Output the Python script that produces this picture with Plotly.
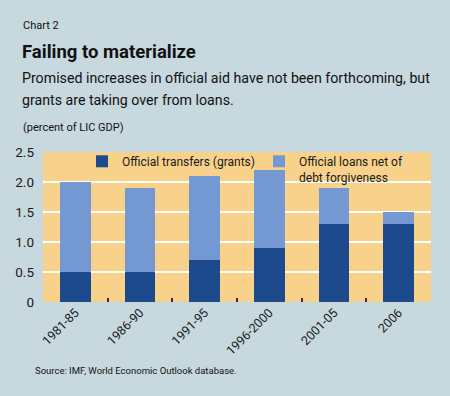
import plotly.graph_objects as go

categories = ["1981-85", "1986-90", "1991-95", "1996-2000", "2001-05", "2006"]
grants = [0.5, 0.5, 0.7, 0.9, 1.3, 1.3]
loans = [1.5, 1.4, 1.4, 1.3, 0.6, 0.2]
y_tickvals = [0, 0.5, 1.0, 1.5, 2.0, 2.5]
y_ticktext = ["0", "0.5", "1.0", "1.5", "2.0", "2.5"]

FONT = "Roboto, Liberation Sans, sans-serif"
DARK = "#1c4a8c"
LIGHT = "#7499d2"
ORANGE = "#f8d28a"
BG = "#c8d8df"
TXT = "#1a1a1a"

L, R, T, B = 43, 19, 152, 94
W, H = 450, 396
pw = W - L - R
ph = H - T - B

def px(x):
    return (x - L) / pw

def py(y):
    return (H - B - y) / ph

fig = go.Figure()
fig.add_trace(go.Bar(x=categories, y=grants, name="Official transfers (grants)",
                     marker=dict(color=DARK, line=dict(width=0)), legend="legend"))
fig.add_trace(go.Bar(x=categories, y=loans, name="Official loans net of<br>debt forgiveness",
                     marker=dict(color=LIGHT, line=dict(width=0)), legend="legend2"))

leg_common = dict(xanchor="left", yanchor="top", bgcolor="rgba(0,0,0,0)",
                  font=dict(size=12, family=FONT, color=TXT), valign="top",
                  itemclick=False, itemdoubleclick=False)

fig.update_layout(
    width=W, height=H,
    margin=dict(l=L, r=R, t=T, b=B),
    paper_bgcolor=BG, plot_bgcolor=ORANGE,
    barmode="stack", bargap=0.53,
    font=dict(family=FONT, color=TXT),
    showlegend=True,
    legend=dict(x=px(82), y=py(147), **leg_common),
    legend2=dict(x=px(259), y=py(147), **leg_common),
    xaxis=dict(type="category", tickangle=-45, tickfont=dict(size=12.5, family=FONT, color=TXT),
               ticks="inside", tickson="boundaries", ticklen=4, tickwidth=1.5, tickcolor="#333",
               showline=False, showgrid=False, zeroline=False, fixedrange=True),
    yaxis=dict(range=[0, 2.5], tickvals=y_tickvals, ticktext=y_ticktext,
               tickfont=dict(size=13.5, family=FONT, color=TXT),
               showgrid=True, gridcolor="white", gridwidth=2, zeroline=False,
               showline=False, ticks="", ticklabelstandoff=8, fixedrange=True),
)

annots = [
    dict(text="Chart 2", x=px(21), y=py(17), size=11),
    dict(text="<b>Failing to materialize</b>", x=px(20), y=py(39), size=18.5),
    dict(text="Promised increases in official aid have not been forthcoming, but", x=px(20), y=py(68), size=14.2),
    dict(text="grants are taking over from loans.", x=px(20), y=py(90), size=14.2),
    dict(text="(percent of LIC GDP)", x=px(21), y=py(119), size=11),
    dict(text="Source: IMF, World Economic Outlook database.", x=px(33), y=py(363), size=9.5),
]
for a in annots:
    fig.add_annotation(text=a["text"], x=a["x"], y=a["y"], xref="paper", yref="paper",
                       xanchor="left", yanchor="top", showarrow=False,
                       font=dict(size=a["size"], family=FONT, color="#111"))

fig.write_html("out.html", config={"displayModeBar": False},
               post_script="document.body.style.margin='0';")
